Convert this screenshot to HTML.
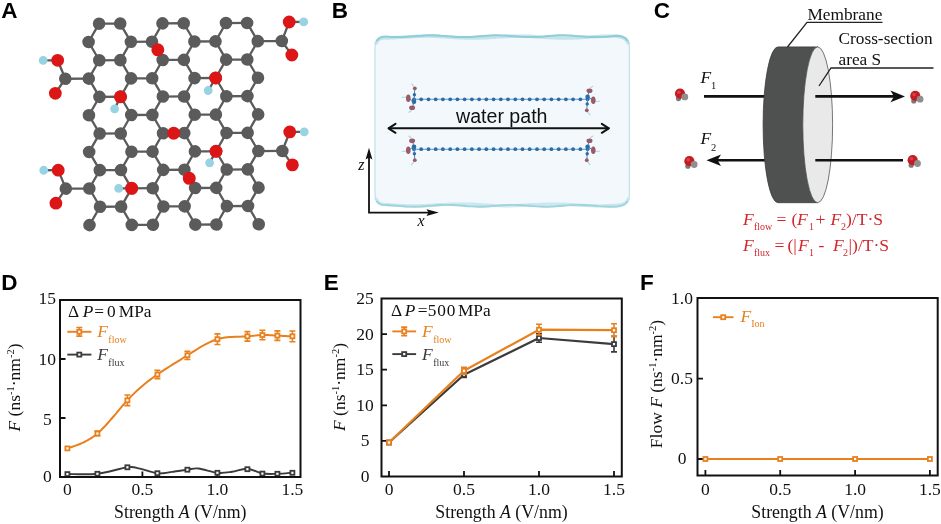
<!DOCTYPE html>
<html><head><meta charset="utf-8"><title>Figure</title>
<style>html,body{margin:0;padding:0;background:#fff}svg{display:block}</style>
</head><body>
<svg width="941" height="524" viewBox="0 0 941 524">
<rect width="941" height="524" fill="#fff"/>
<text x="1.2" y="17.5" font-family="Liberation Sans, sans-serif" font-weight="700" font-size="22.5" fill="#000">A</text>
<g transform="rotate(-0.29 173.6 124.0)">
<g stroke="#5b5b5b" stroke-width="2.3" stroke-linecap="round">
<line x1="99.6" y1="23.3" x2="120.7" y2="23.3"/>
<line x1="163.0" y1="23.3" x2="184.2" y2="23.3"/>
<line x1="226.5" y1="23.3" x2="247.6" y2="23.3"/>
<line x1="99.6" y1="23.3" x2="89.0" y2="41.6"/>
<line x1="120.7" y1="23.3" x2="131.3" y2="41.6"/>
<line x1="163.0" y1="23.3" x2="152.4" y2="41.6"/>
<line x1="184.2" y1="23.3" x2="194.8" y2="41.6"/>
<line x1="226.5" y1="23.3" x2="215.9" y2="41.6"/>
<line x1="247.6" y1="23.3" x2="258.2" y2="41.6"/>
<line x1="131.3" y1="41.6" x2="152.4" y2="41.6"/>
<line x1="194.8" y1="41.6" x2="215.9" y2="41.6"/>
<line x1="89.0" y1="41.6" x2="99.6" y2="59.9"/>
<line x1="131.3" y1="41.6" x2="120.7" y2="59.9"/>
<line x1="152.4" y1="41.6" x2="163.0" y2="59.9"/>
<line x1="194.8" y1="41.6" x2="184.2" y2="59.9"/>
<line x1="215.9" y1="41.6" x2="226.5" y2="59.9"/>
<line x1="258.2" y1="41.6" x2="247.6" y2="59.9"/>
<line x1="99.6" y1="59.9" x2="120.7" y2="59.9"/>
<line x1="163.0" y1="59.9" x2="184.2" y2="59.9"/>
<line x1="226.5" y1="59.9" x2="247.6" y2="59.9"/>
<line x1="99.6" y1="59.9" x2="89.0" y2="78.2"/>
<line x1="120.7" y1="59.9" x2="131.3" y2="78.2"/>
<line x1="163.0" y1="59.9" x2="152.4" y2="78.2"/>
<line x1="184.2" y1="59.9" x2="194.8" y2="78.2"/>
<line x1="226.5" y1="59.9" x2="215.9" y2="78.2"/>
<line x1="247.6" y1="59.9" x2="258.2" y2="78.2"/>
<line x1="131.3" y1="78.2" x2="152.4" y2="78.2"/>
<line x1="194.8" y1="78.2" x2="215.9" y2="78.2"/>
<line x1="89.0" y1="78.2" x2="99.6" y2="96.5"/>
<line x1="131.3" y1="78.2" x2="120.7" y2="96.5"/>
<line x1="152.4" y1="78.2" x2="163.0" y2="96.5"/>
<line x1="194.8" y1="78.2" x2="184.2" y2="96.5"/>
<line x1="215.9" y1="78.2" x2="226.5" y2="96.5"/>
<line x1="258.2" y1="78.2" x2="247.6" y2="96.5"/>
<line x1="99.6" y1="96.5" x2="120.7" y2="96.5"/>
<line x1="163.0" y1="96.5" x2="184.2" y2="96.5"/>
<line x1="226.5" y1="96.5" x2="247.6" y2="96.5"/>
<line x1="99.6" y1="96.5" x2="89.0" y2="114.8"/>
<line x1="120.7" y1="96.5" x2="131.3" y2="114.8"/>
<line x1="163.0" y1="96.5" x2="152.4" y2="114.8"/>
<line x1="184.2" y1="96.5" x2="194.8" y2="114.8"/>
<line x1="226.5" y1="96.5" x2="215.9" y2="114.8"/>
<line x1="247.6" y1="96.5" x2="258.2" y2="114.8"/>
<line x1="131.3" y1="114.8" x2="152.4" y2="114.8"/>
<line x1="194.8" y1="114.8" x2="215.9" y2="114.8"/>
<line x1="89.0" y1="114.8" x2="99.6" y2="133.2"/>
<line x1="131.3" y1="114.8" x2="120.7" y2="133.2"/>
<line x1="152.4" y1="114.8" x2="163.0" y2="133.2"/>
<line x1="194.8" y1="114.8" x2="184.2" y2="133.2"/>
<line x1="215.9" y1="114.8" x2="226.5" y2="133.2"/>
<line x1="258.2" y1="114.8" x2="247.6" y2="133.2"/>
<line x1="99.6" y1="133.2" x2="120.7" y2="133.2"/>
<line x1="163.0" y1="133.2" x2="184.2" y2="133.2"/>
<line x1="226.5" y1="133.2" x2="247.6" y2="133.2"/>
<line x1="99.6" y1="133.2" x2="89.0" y2="151.5"/>
<line x1="120.7" y1="133.2" x2="131.3" y2="151.5"/>
<line x1="163.0" y1="133.2" x2="152.4" y2="151.5"/>
<line x1="184.2" y1="133.2" x2="194.8" y2="151.5"/>
<line x1="226.5" y1="133.2" x2="215.9" y2="151.5"/>
<line x1="247.6" y1="133.2" x2="258.2" y2="151.5"/>
<line x1="131.3" y1="151.5" x2="152.4" y2="151.5"/>
<line x1="194.8" y1="151.5" x2="215.9" y2="151.5"/>
<line x1="89.0" y1="151.5" x2="99.6" y2="169.8"/>
<line x1="131.3" y1="151.5" x2="120.7" y2="169.8"/>
<line x1="152.4" y1="151.5" x2="163.0" y2="169.8"/>
<line x1="194.8" y1="151.5" x2="184.2" y2="169.8"/>
<line x1="215.9" y1="151.5" x2="226.5" y2="169.8"/>
<line x1="258.2" y1="151.5" x2="247.6" y2="169.8"/>
<line x1="99.6" y1="169.8" x2="120.7" y2="169.8"/>
<line x1="163.0" y1="169.8" x2="184.2" y2="169.8"/>
<line x1="226.5" y1="169.8" x2="247.6" y2="169.8"/>
<line x1="99.6" y1="169.8" x2="89.0" y2="188.1"/>
<line x1="120.7" y1="169.8" x2="131.3" y2="188.1"/>
<line x1="163.0" y1="169.8" x2="152.4" y2="188.1"/>
<line x1="184.2" y1="169.8" x2="194.8" y2="188.1"/>
<line x1="226.5" y1="169.8" x2="215.9" y2="188.1"/>
<line x1="247.6" y1="169.8" x2="258.2" y2="188.1"/>
<line x1="131.3" y1="188.1" x2="152.4" y2="188.1"/>
<line x1="194.8" y1="188.1" x2="215.9" y2="188.1"/>
<line x1="89.0" y1="188.1" x2="99.6" y2="206.4"/>
<line x1="131.3" y1="188.1" x2="120.7" y2="206.4"/>
<line x1="152.4" y1="188.1" x2="163.0" y2="206.4"/>
<line x1="194.8" y1="188.1" x2="184.2" y2="206.4"/>
<line x1="215.9" y1="188.1" x2="226.5" y2="206.4"/>
<line x1="258.2" y1="188.1" x2="247.6" y2="206.4"/>
<line x1="99.6" y1="206.4" x2="120.7" y2="206.4"/>
<line x1="163.0" y1="206.4" x2="184.2" y2="206.4"/>
<line x1="226.5" y1="206.4" x2="247.6" y2="206.4"/>
<line x1="99.6" y1="206.4" x2="89.0" y2="224.7"/>
<line x1="120.7" y1="206.4" x2="131.3" y2="224.7"/>
<line x1="163.0" y1="206.4" x2="152.4" y2="224.7"/>
<line x1="184.2" y1="206.4" x2="194.8" y2="224.7"/>
<line x1="226.5" y1="206.4" x2="215.9" y2="224.7"/>
<line x1="247.6" y1="206.4" x2="258.2" y2="224.7"/>
<line x1="131.3" y1="224.7" x2="152.4" y2="224.7"/>
<line x1="194.8" y1="224.7" x2="215.9" y2="224.7"/>
<line x1="89.0" y1="78.2" x2="65.5" y2="78.2"/>
<line x1="65.5" y1="78.2" x2="58.0" y2="59.7"/>
<line x1="65.5" y1="78.2" x2="55.5" y2="92.7"/>
<line x1="58.0" y1="59.7" x2="43.5" y2="59.7"/>
<line x1="89.0" y1="188.1" x2="65.5" y2="188.1"/>
<line x1="65.5" y1="188.1" x2="58.0" y2="169.6"/>
<line x1="65.5" y1="188.1" x2="55.5" y2="202.6"/>
<line x1="58.0" y1="169.6" x2="43.5" y2="169.6"/>
<line x1="258.2" y1="41.6" x2="282.2" y2="41.6"/>
<line x1="282.2" y1="41.6" x2="289.7" y2="22.6"/>
<line x1="282.2" y1="41.6" x2="292.2" y2="55.6"/>
<line x1="289.7" y1="22.6" x2="304.2" y2="22.6"/>
<line x1="258.2" y1="151.5" x2="282.2" y2="151.5"/>
<line x1="282.2" y1="151.5" x2="289.7" y2="132.5"/>
<line x1="282.2" y1="151.5" x2="292.2" y2="165.5"/>
<line x1="289.7" y1="132.5" x2="304.2" y2="132.5"/>
<line x1="120.7" y1="96.5" x2="114.7" y2="108.5"/>
<line x1="215.9" y1="78.2" x2="208.4" y2="90.7"/>
<line x1="215.9" y1="151.5" x2="209.4" y2="163.0"/>
<line x1="131.3" y1="188.1" x2="118.3" y2="188.1"/>
</g>
<g fill="#5b5b5b">
<circle cx="99.6" cy="23.3" r="6.3"/>
<circle cx="120.7" cy="23.3" r="6.3"/>
<circle cx="163.0" cy="23.3" r="6.3"/>
<circle cx="184.2" cy="23.3" r="6.3"/>
<circle cx="226.5" cy="23.3" r="6.3"/>
<circle cx="247.6" cy="23.3" r="6.3"/>
<circle cx="89.0" cy="41.6" r="6.3"/>
<circle cx="131.3" cy="41.6" r="6.3"/>
<circle cx="152.4" cy="41.6" r="6.3"/>
<circle cx="194.8" cy="41.6" r="6.3"/>
<circle cx="215.9" cy="41.6" r="6.3"/>
<circle cx="258.2" cy="41.6" r="6.3"/>
<circle cx="99.6" cy="59.9" r="6.3"/>
<circle cx="120.7" cy="59.9" r="6.3"/>
<circle cx="163.0" cy="59.9" r="6.3"/>
<circle cx="184.2" cy="59.9" r="6.3"/>
<circle cx="226.5" cy="59.9" r="6.3"/>
<circle cx="247.6" cy="59.9" r="6.3"/>
<circle cx="89.0" cy="78.2" r="6.3"/>
<circle cx="131.3" cy="78.2" r="6.3"/>
<circle cx="152.4" cy="78.2" r="6.3"/>
<circle cx="194.8" cy="78.2" r="6.3"/>
<circle cx="215.9" cy="78.2" r="6.3"/>
<circle cx="258.2" cy="78.2" r="6.3"/>
<circle cx="99.6" cy="96.5" r="6.3"/>
<circle cx="120.7" cy="96.5" r="6.3"/>
<circle cx="163.0" cy="96.5" r="6.3"/>
<circle cx="184.2" cy="96.5" r="6.3"/>
<circle cx="226.5" cy="96.5" r="6.3"/>
<circle cx="247.6" cy="96.5" r="6.3"/>
<circle cx="89.0" cy="114.8" r="6.3"/>
<circle cx="131.3" cy="114.8" r="6.3"/>
<circle cx="152.4" cy="114.8" r="6.3"/>
<circle cx="194.8" cy="114.8" r="6.3"/>
<circle cx="215.9" cy="114.8" r="6.3"/>
<circle cx="258.2" cy="114.8" r="6.3"/>
<circle cx="99.6" cy="133.2" r="6.3"/>
<circle cx="120.7" cy="133.2" r="6.3"/>
<circle cx="163.0" cy="133.2" r="6.3"/>
<circle cx="184.2" cy="133.2" r="6.3"/>
<circle cx="226.5" cy="133.2" r="6.3"/>
<circle cx="247.6" cy="133.2" r="6.3"/>
<circle cx="89.0" cy="151.5" r="6.3"/>
<circle cx="131.3" cy="151.5" r="6.3"/>
<circle cx="152.4" cy="151.5" r="6.3"/>
<circle cx="194.8" cy="151.5" r="6.3"/>
<circle cx="215.9" cy="151.5" r="6.3"/>
<circle cx="258.2" cy="151.5" r="6.3"/>
<circle cx="99.6" cy="169.8" r="6.3"/>
<circle cx="120.7" cy="169.8" r="6.3"/>
<circle cx="163.0" cy="169.8" r="6.3"/>
<circle cx="184.2" cy="169.8" r="6.3"/>
<circle cx="226.5" cy="169.8" r="6.3"/>
<circle cx="247.6" cy="169.8" r="6.3"/>
<circle cx="89.0" cy="188.1" r="6.3"/>
<circle cx="131.3" cy="188.1" r="6.3"/>
<circle cx="152.4" cy="188.1" r="6.3"/>
<circle cx="194.8" cy="188.1" r="6.3"/>
<circle cx="215.9" cy="188.1" r="6.3"/>
<circle cx="258.2" cy="188.1" r="6.3"/>
<circle cx="99.6" cy="206.4" r="6.3"/>
<circle cx="120.7" cy="206.4" r="6.3"/>
<circle cx="163.0" cy="206.4" r="6.3"/>
<circle cx="184.2" cy="206.4" r="6.3"/>
<circle cx="226.5" cy="206.4" r="6.3"/>
<circle cx="247.6" cy="206.4" r="6.3"/>
<circle cx="89.0" cy="224.7" r="6.3"/>
<circle cx="131.3" cy="224.7" r="6.3"/>
<circle cx="152.4" cy="224.7" r="6.3"/>
<circle cx="194.8" cy="224.7" r="6.3"/>
<circle cx="215.9" cy="224.7" r="6.3"/>
<circle cx="258.2" cy="224.7" r="6.3"/>
<circle cx="65.5" cy="78.2" r="6.3"/>
<circle cx="65.5" cy="188.1" r="6.3"/>
<circle cx="282.2" cy="41.6" r="6.3"/>
<circle cx="282.2" cy="151.5" r="6.3"/>
</g>
<g fill="#97d3e2">
<circle cx="43.5" cy="59.7" r="4.4"/>
<circle cx="43.5" cy="169.6" r="4.4"/>
<circle cx="304.2" cy="22.6" r="4.4"/>
<circle cx="304.2" cy="132.5" r="4.4"/>
<circle cx="114.7" cy="108.5" r="4.4"/>
<circle cx="208.4" cy="90.7" r="4.4"/>
<circle cx="209.4" cy="163.0" r="4.4"/>
<circle cx="118.3" cy="188.1" r="4.4"/>
</g>
<g fill="#dc1616">
<circle cx="58.0" cy="59.7" r="6.4"/>
<circle cx="55.5" cy="92.7" r="6.4"/>
<circle cx="58.0" cy="169.6" r="6.4"/>
<circle cx="55.5" cy="202.6" r="6.4"/>
<circle cx="289.7" cy="22.6" r="6.4"/>
<circle cx="292.2" cy="55.6" r="6.4"/>
<circle cx="289.7" cy="132.5" r="6.4"/>
<circle cx="292.2" cy="165.5" r="6.4"/>
<circle cx="120.7" cy="96.5" r="6.5"/>
<circle cx="215.9" cy="78.2" r="6.5"/>
<circle cx="215.9" cy="151.5" r="6.5"/>
<circle cx="131.3" cy="188.1" r="6.5"/>
<circle cx="158.2" cy="49.7" r="6.5"/>
<circle cx="173.6" cy="133.2" r="6.5"/>
<circle cx="189.0" cy="178.4" r="6.5"/>
</g>
</g>
<text x="331.8" y="17.7" font-family="Liberation Sans, sans-serif" font-weight="700" font-size="22.5" fill="#000">B</text>
<path d="M375.0,48.2 Q375.0,36.2 387.0,36.6 L390.8,36.9 L394.7,37.0 L398.5,37.1 L402.4,37.0 L406.2,36.9 L410.0,36.6 L413.9,36.3 L417.7,35.9 L421.6,35.7 L425.4,35.4 L429.2,35.3 L433.1,35.3 L436.9,35.4 L440.8,35.7 L444.6,35.9 L448.4,36.3 L452.3,36.6 L456.1,36.9 L460.0,37.0 L463.8,37.1 L467.6,37.0 L471.5,36.9 L475.3,36.6 L479.2,36.3 L483.0,36.0 L486.8,35.7 L490.7,35.5 L494.5,35.3 L498.4,35.3 L502.2,35.4 L506.0,35.6 L509.9,35.9 L513.7,36.2 L517.6,36.5 L521.4,36.8 L525.2,37.0 L529.1,37.1 L532.9,37.1 L536.8,36.9 L540.6,36.7 L544.4,36.4 L548.3,36.0 L552.1,35.7 L556.0,35.5 L559.8,35.3 L563.6,35.3 L567.5,35.4 L571.3,35.6 L575.2,35.9 L579.0,36.2 L582.8,36.5 L586.7,36.8 L590.5,37.0 L594.4,37.1 L598.2,37.1 L602.0,36.9 L605.9,36.7 L609.7,36.4 L613.6,36.1 L617.4,35.8 Q629.4,36.2 629.4,48.2 L629.4,193.8 Q629.4,205.8 617.4,206.6 L613.6,206.7 L609.7,206.7 L605.9,206.6 L602.0,206.4 L598.2,206.1 L594.4,205.7 L590.5,205.4 L586.7,205.2 L582.8,205.0 L579.0,204.9 L575.2,204.9 L571.3,205.1 L567.5,205.4 L563.6,205.7 L559.8,206.0 L556.0,206.3 L552.1,206.5 L548.3,206.7 L544.4,206.7 L540.6,206.6 L536.8,206.4 L532.9,206.1 L529.1,205.8 L525.2,205.5 L521.4,205.2 L517.6,205.0 L513.7,204.9 L509.9,204.9 L506.0,205.1 L502.2,205.3 L498.4,205.6 L494.5,205.9 L490.7,206.3 L486.8,206.5 L483.0,206.7 L479.2,206.7 L475.3,206.6 L471.5,206.4 L467.6,206.2 L463.8,205.8 L460.0,205.5 L456.1,205.2 L452.3,205.0 L448.4,204.9 L444.6,204.9 L440.8,205.0 L436.9,205.3 L433.1,205.6 L429.2,205.9 L425.4,206.2 L421.6,206.5 L417.7,206.6 L413.9,206.7 L410.0,206.6 L406.2,206.5 L402.4,206.2 L398.5,205.9 L394.7,205.6 L390.8,205.3 L387.0,205.0 Q375.0,205.8 375.0,193.8 Z" fill="#f2f8fb" stroke="#c3e3e8" stroke-width="1.3"/>
<path d="M376.1,43.0 Q378.6,37.1 387.0,38.0 L390.8,37.9 L394.7,37.7 L398.5,37.4 L402.4,37.2 L406.2,36.9 L410.0,36.7 L413.9,36.5 L417.7,36.3 L421.6,36.2 L425.4,36.1 L429.2,36.1 L433.1,36.2 L436.9,36.3 L440.8,36.5 L444.6,36.8 L448.4,37.0 L452.3,37.3 L456.1,37.5 L460.0,37.7 L463.8,37.9 L467.6,38.0 L471.5,38.1 L475.3,38.1 L479.2,38.0 L483.0,37.9 L486.8,37.7 L490.7,37.4 L494.5,37.2 L498.4,36.9 L502.2,36.7 L506.0,36.5 L509.9,36.3 L513.7,36.2 L517.6,36.1 L521.4,36.1 L525.2,36.2 L529.1,36.3 L532.9,36.5 L536.8,36.8 L540.6,37.0 L544.4,37.3 L548.3,37.5 L552.1,37.7 L556.0,37.9 L559.8,38.0 L563.6,38.1 L567.5,38.1 L571.3,38.0 L575.2,37.9 L579.0,37.7 L582.8,37.4 L586.7,37.2 L590.5,36.9 L594.4,36.7 L598.2,36.5 L602.0,36.3 L605.9,36.2 L609.7,36.1 L613.6,36.1 L617.4,36.2 Q625.8,37.1 628.3,43.0" fill="none" stroke="#b7dfe7" stroke-width="3.4" stroke-linecap="round" stroke-linejoin="round" opacity="0.8"/>
<path d="M376.9,40.5 Q379.8,36.2 387.0,36.6 L390.8,36.9 L394.7,37.0 L398.5,37.1 L402.4,37.0 L406.2,36.9 L410.0,36.6 L413.9,36.3 L417.7,35.9 L421.6,35.7 L425.4,35.4 L429.2,35.3 L433.1,35.3 L436.9,35.4 L440.8,35.7 L444.6,35.9 L448.4,36.3 L452.3,36.6 L456.1,36.9 L460.0,37.0 L463.8,37.1 L467.6,37.0 L471.5,36.9 L475.3,36.6 L479.2,36.3 L483.0,36.0 L486.8,35.7 L490.7,35.5 L494.5,35.3 L498.4,35.3 L502.2,35.4 L506.0,35.6 L509.9,35.9 L513.7,36.2 L517.6,36.5 L521.4,36.8 L525.2,37.0 L529.1,37.1 L532.9,37.1 L536.8,36.9 L540.6,36.7 L544.4,36.4 L548.3,36.0 L552.1,35.7 L556.0,35.5 L559.8,35.3 L563.6,35.3 L567.5,35.4 L571.3,35.6 L575.2,35.9 L579.0,36.2 L582.8,36.5 L586.7,36.8 L590.5,37.0 L594.4,37.1 L598.2,37.1 L602.0,36.9 L605.9,36.7 L609.7,36.4 L613.6,36.1 L617.4,35.8 Q624.6,36.2 627.5,40.5" fill="none" stroke="#8ecbd7" stroke-width="2.0" stroke-linecap="round" stroke-linejoin="round" opacity="0.95"/>
<path d="M628.3,199.0 Q625.8,204.9 617.4,205.2 L613.6,205.4 L609.7,205.6 L605.9,205.7 L602.0,205.8 L598.2,205.8 L594.4,205.8 L590.5,205.7 L586.7,205.5 L582.8,205.3 L579.0,205.1 L575.2,204.9 L571.3,204.6 L567.5,204.4 L563.6,204.2 L559.8,204.1 L556.0,204.0 L552.1,204.0 L548.3,204.0 L544.4,204.1 L540.6,204.3 L536.8,204.5 L532.9,204.7 L529.1,204.9 L525.2,205.2 L521.4,205.4 L517.6,205.6 L513.7,205.7 L509.9,205.8 L506.0,205.8 L502.2,205.8 L498.4,205.7 L494.5,205.5 L490.7,205.3 L486.8,205.1 L483.0,204.9 L479.2,204.6 L475.3,204.4 L471.5,204.2 L467.6,204.1 L463.8,204.0 L460.0,204.0 L456.1,204.0 L452.3,204.1 L448.4,204.3 L444.6,204.5 L440.8,204.7 L436.9,204.9 L433.1,205.2 L429.2,205.4 L425.4,205.6 L421.6,205.7 L417.7,205.8 L413.9,205.8 L410.0,205.8 L406.2,205.7 L402.4,205.5 L398.5,205.3 L394.7,205.1 L390.8,204.9 L387.0,204.6 Q378.6,204.9 376.1,199.0" fill="none" stroke="#bfe3ea" stroke-width="3.2" stroke-linecap="round" stroke-linejoin="round" opacity="0.8"/>
<path d="M627.5,201.5 Q624.6,205.8 617.4,206.6 L613.6,206.7 L609.7,206.7 L605.9,206.6 L602.0,206.4 L598.2,206.1 L594.4,205.7 L590.5,205.4 L586.7,205.2 L582.8,205.0 L579.0,204.9 L575.2,204.9 L571.3,205.1 L567.5,205.4 L563.6,205.7 L559.8,206.0 L556.0,206.3 L552.1,206.5 L548.3,206.7 L544.4,206.7 L540.6,206.6 L536.8,206.4 L532.9,206.1 L529.1,205.8 L525.2,205.5 L521.4,205.2 L517.6,205.0 L513.7,204.9 L509.9,204.9 L506.0,205.1 L502.2,205.3 L498.4,205.6 L494.5,205.9 L490.7,206.3 L486.8,206.5 L483.0,206.7 L479.2,206.7 L475.3,206.6 L471.5,206.4 L467.6,206.2 L463.8,205.8 L460.0,205.5 L456.1,205.2 L452.3,205.0 L448.4,204.9 L444.6,204.9 L440.8,205.0 L436.9,205.3 L433.1,205.6 L429.2,205.9 L425.4,206.2 L421.6,206.5 L417.7,206.6 L413.9,206.7 L410.0,206.6 L406.2,206.5 L402.4,206.2 L398.5,205.9 L394.7,205.6 L390.8,205.3 L387.0,205.0 Q379.8,205.8 376.9,201.5" fill="none" stroke="#9dd3dd" stroke-width="1.9" stroke-linecap="round" stroke-linejoin="round" opacity="0.95"/>
<line x1="414" y1="99.3" x2="587.6" y2="99.3" stroke="#5f95c4" stroke-width="1.1"/>
<g fill="#2c6ca6">
<circle cx="414.0" cy="99.3" r="1.9"/>
<circle cx="421.2" cy="99.3" r="1.9"/>
<circle cx="428.5" cy="99.3" r="1.9"/>
<circle cx="435.7" cy="99.3" r="1.9"/>
<circle cx="442.9" cy="99.3" r="1.9"/>
<circle cx="450.2" cy="99.3" r="1.9"/>
<circle cx="457.4" cy="99.3" r="1.9"/>
<circle cx="464.6" cy="99.3" r="1.9"/>
<circle cx="471.9" cy="99.3" r="1.9"/>
<circle cx="479.1" cy="99.3" r="1.9"/>
<circle cx="486.3" cy="99.3" r="1.9"/>
<circle cx="493.6" cy="99.3" r="1.9"/>
<circle cx="500.8" cy="99.3" r="1.9"/>
<circle cx="508.0" cy="99.3" r="1.9"/>
<circle cx="515.3" cy="99.3" r="1.9"/>
<circle cx="522.5" cy="99.3" r="1.9"/>
<circle cx="529.7" cy="99.3" r="1.9"/>
<circle cx="537.0" cy="99.3" r="1.9"/>
<circle cx="544.2" cy="99.3" r="1.9"/>
<circle cx="551.4" cy="99.3" r="1.9"/>
<circle cx="558.7" cy="99.3" r="1.9"/>
<circle cx="565.9" cy="99.3" r="1.9"/>
<circle cx="573.1" cy="99.3" r="1.9"/>
<circle cx="580.4" cy="99.3" r="1.9"/>
<circle cx="587.6" cy="99.3" r="1.9"/>
</g>
<line x1="414" y1="149.2" x2="587.6" y2="149.2" stroke="#5f95c4" stroke-width="1.1"/>
<g fill="#2c6ca6">
<circle cx="414.0" cy="149.2" r="1.9"/>
<circle cx="421.2" cy="149.2" r="1.9"/>
<circle cx="428.5" cy="149.2" r="1.9"/>
<circle cx="435.7" cy="149.2" r="1.9"/>
<circle cx="442.9" cy="149.2" r="1.9"/>
<circle cx="450.2" cy="149.2" r="1.9"/>
<circle cx="457.4" cy="149.2" r="1.9"/>
<circle cx="464.6" cy="149.2" r="1.9"/>
<circle cx="471.9" cy="149.2" r="1.9"/>
<circle cx="479.1" cy="149.2" r="1.9"/>
<circle cx="486.3" cy="149.2" r="1.9"/>
<circle cx="493.6" cy="149.2" r="1.9"/>
<circle cx="500.8" cy="149.2" r="1.9"/>
<circle cx="508.0" cy="149.2" r="1.9"/>
<circle cx="515.3" cy="149.2" r="1.9"/>
<circle cx="522.5" cy="149.2" r="1.9"/>
<circle cx="529.7" cy="149.2" r="1.9"/>
<circle cx="537.0" cy="149.2" r="1.9"/>
<circle cx="544.2" cy="149.2" r="1.9"/>
<circle cx="551.4" cy="149.2" r="1.9"/>
<circle cx="558.7" cy="149.2" r="1.9"/>
<circle cx="565.9" cy="149.2" r="1.9"/>
<circle cx="573.1" cy="149.2" r="1.9"/>
<circle cx="580.4" cy="149.2" r="1.9"/>
<circle cx="587.6" cy="149.2" r="1.9"/>
</g>
<g transform="translate(414,99.3) scale(-1,-1)">
<g stroke="#a5d8e2" stroke-width="1.1" stroke-linecap="round">
<line x1="2.6" y1="-11.2" x2="5" y2="-13"/><line x1="8" y1="2" x2="11.8" y2="2"/><line x1="0.4" y1="13.2" x2="2.4" y2="15.4"/>
</g>
<path d="M0,-2.4 L-0.4,4.6 L-0.8,11 M0,-2.4 L1.7,-8.5 M0,-2.4 L5.9,1" stroke="#4f86b8" stroke-width="1" fill="none"/>
<g fill="#9b5a6a"><ellipse cx="1.9" cy="-8.5" rx="3" ry="2.3"/><ellipse cx="5.7" cy="1" rx="2.3" ry="3.8"/><circle cx="-0.8" cy="11" r="1.9"/></g>
<g fill="#2c6ca6"><circle cx="0" cy="-2.4" r="2.3"/><circle cx="-0.4" cy="4.6" r="1.7"/></g>
</g>
<g transform="translate(414,149.2) scale(-1,1)">
<g stroke="#a5d8e2" stroke-width="1.1" stroke-linecap="round">
<line x1="2.6" y1="-11.2" x2="5" y2="-13"/><line x1="8" y1="2" x2="11.8" y2="2"/><line x1="0.4" y1="13.2" x2="2.4" y2="15.4"/>
</g>
<path d="M0,-2.4 L-0.4,4.6 L-0.8,11 M0,-2.4 L1.7,-8.5 M0,-2.4 L5.9,1" stroke="#4f86b8" stroke-width="1" fill="none"/>
<g fill="#9b5a6a"><ellipse cx="1.9" cy="-8.5" rx="3" ry="2.3"/><ellipse cx="5.7" cy="1" rx="2.3" ry="3.8"/><circle cx="-0.8" cy="11" r="1.9"/></g>
<g fill="#2c6ca6"><circle cx="0" cy="-2.4" r="2.3"/><circle cx="-0.4" cy="4.6" r="1.7"/></g>
</g>
<g transform="translate(587.6,99.3) scale(1,1)">
<g stroke="#a5d8e2" stroke-width="1.1" stroke-linecap="round">
<line x1="2.6" y1="-11.2" x2="5" y2="-13"/><line x1="8" y1="2" x2="11.8" y2="2"/><line x1="0.4" y1="13.2" x2="2.4" y2="15.4"/>
</g>
<path d="M0,-2.4 L-0.4,4.6 L-0.8,11 M0,-2.4 L1.7,-8.5 M0,-2.4 L5.9,1" stroke="#4f86b8" stroke-width="1" fill="none"/>
<g fill="#9b5a6a"><ellipse cx="1.9" cy="-8.5" rx="3" ry="2.3"/><ellipse cx="5.7" cy="1" rx="2.3" ry="3.8"/><circle cx="-0.8" cy="11" r="1.9"/></g>
<g fill="#2c6ca6"><circle cx="0" cy="-2.4" r="2.3"/><circle cx="-0.4" cy="4.6" r="1.7"/></g>
</g>
<g transform="translate(587.6,149.2) scale(1,1)">
<g stroke="#a5d8e2" stroke-width="1.1" stroke-linecap="round">
<line x1="2.6" y1="-11.2" x2="5" y2="-13"/><line x1="8" y1="2" x2="11.8" y2="2"/><line x1="0.4" y1="13.2" x2="2.4" y2="15.4"/>
</g>
<path d="M0,-2.4 L-0.4,4.6 L-0.8,11 M0,-2.4 L1.7,-8.5 M0,-2.4 L5.9,1" stroke="#4f86b8" stroke-width="1" fill="none"/>
<g fill="#9b5a6a"><ellipse cx="1.9" cy="-8.5" rx="3" ry="2.3"/><ellipse cx="5.7" cy="1" rx="2.3" ry="3.8"/><circle cx="-0.8" cy="11" r="1.9"/></g>
<g fill="#2c6ca6"><circle cx="0" cy="-2.4" r="2.3"/><circle cx="-0.4" cy="4.6" r="1.7"/></g>
</g>
<g stroke="#111" stroke-width="2" fill="none" stroke-linecap="round" stroke-linejoin="round">
<line x1="389" y1="128.3" x2="608.5" y2="128.3"/>
<path d="M395.5,123.80000000000001 L388.5,128.3 L395.5,132.8"/>
<path d="M601.8,123.80000000000001 L608.8,128.3 L601.8,132.8"/>
</g>
<text x="456" y="122.5" font-family="Liberation Sans, sans-serif" font-size="19.5" fill="#111" textLength="91.5" lengthAdjust="spacingAndGlyphs">water path</text>
<g stroke="#111" stroke-width="1.8" fill="none"><path d="M369,156 V212.6 H430"/></g>
<path d="M369,147.8 L365.6,159.5 L369,157.5 L372.4,159.5 Z" fill="#111"/>
<path d="M438.8,212.6 L426.5,209.2 L428.5,212.6 L426.5,216 Z" fill="#111"/>
<text x="358.3" y="169.5" font-family="Liberation Serif, serif" font-style="italic" font-size="16" fill="#111">z</text>
<text x="417.5" y="226" font-family="Liberation Serif, serif" font-style="italic" font-size="16" fill="#111">x</text>
<text x="653.7" y="17.9" font-family="Liberation Sans, sans-serif" font-weight="700" font-size="22.5" fill="#000">C</text>
<g stroke="#111" stroke-width="2.6" fill="none">
<line x1="704" y1="96.4" x2="770" y2="96.4"/>
<line x1="716" y1="160.2" x2="770" y2="160.2"/>
</g>
<path d="M778,46.89999999999999 A14.9,77.9 0 0 0 778,202.7 L817.7,202.7 A14.9,77.9 0 0 1 817.7,46.89999999999999 Z" fill="#4f5050" stroke="#3c3c3c" stroke-width="0.8"/>
<ellipse cx="817.7" cy="124.8" rx="14.9" ry="77.9" fill="#e9e9e9" stroke="#555" stroke-width="0.8"/>
<g stroke="#222" stroke-width="1.3" fill="none"><path d="M882.5,22.3 H807 L787.5,47"/><path d="M933.5,68 H831 L819,86"/></g>
<g stroke="#111" stroke-width="2.6" fill="none">
<line x1="815.3" y1="96.4" x2="896" y2="96.4"/>
<line x1="815.3" y1="160.2" x2="903" y2="160.2"/>
</g>
<path d="M905,96.4 L890.5,90.6 L894,96.4 L890.5,102.2 Z" fill="#111"/>
<path d="M706.5,160.2 L721,154.4 L717.5,160.2 L721,166 Z" fill="#111"/>
<circle cx="678.5" cy="98.6" r="2.6" fill="#7a7a7a"/>
<circle cx="680" cy="93.6" r="5.1" fill="#c41c22"/>
<circle cx="678.8" cy="92.19999999999999" r="1.8" fill="#dd5358" opacity="0.7"/>
<circle cx="684.8" cy="96.89999999999999" r="3.4" fill="#8e8e8e"/>
<circle cx="687.9" cy="166.2" r="2.6" fill="#7a7a7a"/>
<circle cx="689.4" cy="161.2" r="5.1" fill="#c41c22"/>
<circle cx="688.1999999999999" cy="159.79999999999998" r="1.8" fill="#dd5358" opacity="0.7"/>
<circle cx="694.1999999999999" cy="164.5" r="3.4" fill="#8e8e8e"/>
<circle cx="913.8" cy="100.9" r="2.6" fill="#7a7a7a"/>
<circle cx="915.3" cy="95.9" r="5.1" fill="#c41c22"/>
<circle cx="914.0999999999999" cy="94.5" r="1.8" fill="#dd5358" opacity="0.7"/>
<circle cx="920.0999999999999" cy="99.2" r="3.4" fill="#8e8e8e"/>
<circle cx="911.2" cy="165.2" r="2.6" fill="#7a7a7a"/>
<circle cx="912.7" cy="160.2" r="5.1" fill="#c41c22"/>
<circle cx="911.5" cy="158.79999999999998" r="1.8" fill="#dd5358" opacity="0.7"/>
<circle cx="917.5" cy="163.5" r="3.4" fill="#8e8e8e"/>
<text x="807.5" y="19.6" font-family="Liberation Serif, serif" font-size="17.3" fill="#111">Membrane</text>
<text x="838.5" y="43.6" font-family="Liberation Serif, serif" font-size="17.3" fill="#111">Cross-section</text>
<text x="838.5" y="64.8" font-family="Liberation Serif, serif" font-size="17.3" fill="#111">area S</text>
<text x="700.5" y="82.5" font-family="Liberation Serif, serif" font-size="17.5" font-style="italic" fill="#111">F</text>
<text x="711" y="89" font-family="Liberation Serif, serif" font-size="10.5" fill="#111">1</text>
<text x="700.5" y="144" font-family="Liberation Serif, serif" font-size="17.5" font-style="italic" fill="#111">F</text>
<text x="711" y="150.5" font-family="Liberation Serif, serif" font-size="10.5" fill="#111">2</text>
<text x="743" y="224.7" font-family="Liberation Serif, serif" font-size="17.6" font-style="italic" fill="#d3262b">F</text>
<text x="754" y="230" font-family="Liberation Serif, serif" font-size="10" fill="#d3262b">flow</text>
<text x="776.5" y="224.7" font-family="Liberation Serif, serif" font-size="17.6" fill="#d3262b">=</text>
<text x="791.5" y="224.7" font-family="Liberation Serif, serif" font-size="17.6" fill="#d3262b">(</text>
<text x="797" y="224.7" font-family="Liberation Serif, serif" font-size="17.6" font-style="italic" fill="#d3262b">F</text>
<text x="809" y="230" font-family="Liberation Serif, serif" font-size="10" fill="#d3262b">1</text>
<text x="815.5" y="224.7" font-family="Liberation Serif, serif" font-size="17.6" fill="#d3262b">+</text>
<text x="830.5" y="224.7" font-family="Liberation Serif, serif" font-size="17.6" font-style="italic" fill="#d3262b">F</text>
<text x="841" y="230" font-family="Liberation Serif, serif" font-size="10" fill="#d3262b">2</text>
<text x="846" y="224.7" font-family="Liberation Serif, serif" font-size="17.6" fill="#d3262b">)/T·S</text>
<text x="743" y="250.5" font-family="Liberation Serif, serif" font-size="17.6" font-style="italic" fill="#d3262b">F</text>
<text x="754" y="256" font-family="Liberation Serif, serif" font-size="10" fill="#d3262b">flux</text>
<text x="774.5" y="250.5" font-family="Liberation Serif, serif" font-size="17.6" fill="#d3262b">=</text>
<text x="787.5" y="250.5" font-family="Liberation Serif, serif" font-size="17.6" fill="#d3262b">(|</text>
<text x="798" y="250.5" font-family="Liberation Serif, serif" font-size="17.6" font-style="italic" fill="#d3262b">F</text>
<text x="809" y="256" font-family="Liberation Serif, serif" font-size="10" fill="#d3262b">1</text>
<text x="818.5" y="250.5" font-family="Liberation Serif, serif" font-size="17.6" fill="#d3262b">-</text>
<text x="833" y="250.5" font-family="Liberation Serif, serif" font-size="17.6" font-style="italic" fill="#d3262b">F</text>
<text x="843" y="256" font-family="Liberation Serif, serif" font-size="10" fill="#d3262b">2</text>
<text x="848.5" y="250.5" font-family="Liberation Serif, serif" font-size="17.6" fill="#d3262b">|)/T·S</text>
<text x="1.3" y="289.8" font-family="Liberation Sans, sans-serif" font-weight="700" font-size="22.5" fill="#000">D</text>
<path d="M142.4,477 v-5.5 M217.4,477 v-5.5 M60,418.0 h5.5 M60,359.0 h5.5 " stroke="#111" stroke-width="1.8" fill="none"/>
<path d="M67.4,474.0 C72.4,474.0 87.4,474.9 97.4,473.8 C107.4,472.7 120.3,468.2 127.4,467.3 C134.5,466.4 135.0,467.6 140.0,468.6 C145.0,469.6 152.1,472.8 157.4,473.3 C162.7,473.9 167.0,472.5 172.0,471.9 C177.0,471.3 183.0,470.3 187.4,469.7 C191.8,469.1 193.5,468.0 198.5,468.5 C203.5,469.0 211.8,472.2 217.4,472.8 C223.0,473.4 227.0,472.5 232.0,471.8 C237.0,471.1 242.3,468.5 247.4,468.8 C252.5,469.1 257.4,472.7 262.4,473.5 C267.4,474.3 272.4,473.9 277.4,473.8 C282.4,473.7 289.9,472.8 292.4,472.6" stroke="#3b3b3b" stroke-width="1.9" stroke-linejoin="round" fill="none"/>
<rect x="65.4" y="472.1" width="4.0" height="4.0" fill="#fff" stroke="#3b3b3b" stroke-width="1.8"/>
<rect x="95.4" y="471.8" width="4.0" height="4.0" fill="#fff" stroke="#3b3b3b" stroke-width="1.8"/>
<rect x="125.4" y="465.3" width="4.0" height="4.0" fill="#fff" stroke="#3b3b3b" stroke-width="1.8"/>
<rect x="155.4" y="471.2" width="4.0" height="4.0" fill="#fff" stroke="#3b3b3b" stroke-width="1.8"/>
<rect x="185.4" y="467.7" width="4.0" height="4.0" fill="#fff" stroke="#3b3b3b" stroke-width="1.8"/>
<rect x="215.4" y="470.8" width="4.0" height="4.0" fill="#fff" stroke="#3b3b3b" stroke-width="1.8"/>
<rect x="245.4" y="467.2" width="4.0" height="4.0" fill="#fff" stroke="#3b3b3b" stroke-width="1.8"/>
<rect x="260.4" y="471.6" width="4.0" height="4.0" fill="#fff" stroke="#3b3b3b" stroke-width="1.8"/>
<rect x="275.4" y="471.8" width="4.0" height="4.0" fill="#fff" stroke="#3b3b3b" stroke-width="1.8"/>
<rect x="290.4" y="470.8" width="4.0" height="4.0" fill="#fff" stroke="#3b3b3b" stroke-width="1.8"/>
<path d="M67.4,448.44 L69.9,447.63 L72.4,446.80 L74.9,445.93 L77.4,445.01 L79.9,444.01 L82.4,442.92 L84.9,441.73 L87.4,440.40 L89.9,438.93 L92.4,437.30 L94.9,435.48 L97.4,433.46 L99.9,431.23 L102.4,428.81 L104.9,426.22 L107.4,423.50 L109.9,420.68 L112.4,417.77 L114.9,414.82 L117.4,411.85 L119.9,408.88 L122.4,405.95 L124.9,403.08 L127.4,400.30 L129.9,397.64 L132.4,395.09 L134.9,392.64 L137.4,390.30 L139.9,388.05 L142.4,385.89 L144.9,383.82 L147.4,381.82 L149.9,379.89 L152.4,378.02 L154.9,376.21 L157.4,374.46 L159.9,372.75 L162.4,371.08 L164.9,369.44 L167.4,367.83 L169.9,366.25 L172.4,364.68 L174.9,363.12 L177.4,361.58 L179.9,360.03 L182.4,358.48 L184.9,356.92 L187.4,355.34 L189.9,353.75 L192.4,352.15 L194.9,350.56 L197.4,348.99 L199.9,347.47 L202.4,346.00 L204.9,344.60 L207.4,343.28 L209.9,342.07 L212.4,340.97 L214.9,340.00 L217.4,339.18 L219.9,338.51 L222.4,337.98 L224.9,337.58 L227.4,337.28 L229.9,337.06 L232.4,336.92 L234.9,336.81 L237.4,336.74 L239.9,336.68 L242.4,336.60 L244.9,336.50 L247.4,336.34 L248.7,336.24 L249.9,336.13 L251.2,336.01 L252.4,335.88 L253.7,335.75 L254.9,335.62 L256.1,335.49 L257.4,335.37 L258.6,335.27 L259.9,335.17 L261.1,335.10 L262.4,335.05 L263.6,335.02 L264.9,335.01 L266.1,335.02 L267.4,335.06 L268.6,335.10 L269.9,335.16 L271.1,335.23 L272.4,335.31 L273.6,335.39 L274.9,335.47 L276.1,335.55 L277.4,335.64 L278.6,335.71 L279.9,335.78 L281.1,335.85 L282.4,335.92 L283.6,335.98 L284.9,336.04 L286.1,336.09 L287.4,336.14 L288.6,336.20 L289.9,336.25 L291.1,336.30 L292.4,336.34" stroke="#e8801e" stroke-width="2" stroke-linejoin="round" fill="none"/>
<rect x="65.4" y="446.4" width="4.0" height="4.0" fill="#fff" stroke="#e8801e" stroke-width="1.8"/>
<path d="M97.4,431.1 V435.8 M94.4,431.1 h6 M94.4,435.8 h6" stroke="#e8801e" stroke-width="1.6" fill="none"/>
<rect x="95.4" y="431.5" width="4.0" height="4.0" fill="#fff" stroke="#e8801e" stroke-width="1.8"/>
<path d="M127.4,395.0 V405.6 M124.4,395.0 h6 M124.4,405.6 h6" stroke="#e8801e" stroke-width="1.6" fill="none"/>
<rect x="125.4" y="398.3" width="4.0" height="4.0" fill="#fff" stroke="#e8801e" stroke-width="1.8"/>
<path d="M157.4,370.3 V378.6 M154.4,370.3 h6 M154.4,378.6 h6" stroke="#e8801e" stroke-width="1.6" fill="none"/>
<rect x="155.4" y="372.5" width="4.0" height="4.0" fill="#fff" stroke="#e8801e" stroke-width="1.8"/>
<path d="M187.4,351.2 V359.5 M184.4,351.2 h6 M184.4,359.5 h6" stroke="#e8801e" stroke-width="1.6" fill="none"/>
<rect x="185.4" y="353.3" width="4.0" height="4.0" fill="#fff" stroke="#e8801e" stroke-width="1.8"/>
<path d="M217.4,333.9 V344.5 M214.4,333.9 h6 M214.4,344.5 h6" stroke="#e8801e" stroke-width="1.6" fill="none"/>
<rect x="215.4" y="337.2" width="4.0" height="4.0" fill="#fff" stroke="#e8801e" stroke-width="1.8"/>
<path d="M247.4,331.6 V341.1 M244.4,331.6 h6 M244.4,341.1 h6" stroke="#e8801e" stroke-width="1.6" fill="none"/>
<rect x="245.4" y="334.3" width="4.0" height="4.0" fill="#fff" stroke="#e8801e" stroke-width="1.8"/>
<path d="M262.4,330.3 V339.8 M259.4,330.3 h6 M259.4,339.8 h6" stroke="#e8801e" stroke-width="1.6" fill="none"/>
<rect x="260.4" y="333.0" width="4.0" height="4.0" fill="#fff" stroke="#e8801e" stroke-width="1.8"/>
<path d="M277.4,330.9 V340.4 M274.4,330.9 h6 M274.4,340.4 h6" stroke="#e8801e" stroke-width="1.6" fill="none"/>
<rect x="275.4" y="333.6" width="4.0" height="4.0" fill="#fff" stroke="#e8801e" stroke-width="1.8"/>
<path d="M292.4,331.0 V341.7 M289.4,331.0 h6 M289.4,341.7 h6" stroke="#e8801e" stroke-width="1.6" fill="none"/>
<rect x="290.4" y="334.3" width="4.0" height="4.0" fill="#fff" stroke="#e8801e" stroke-width="1.8"/>
<rect x="60" y="300" width="240.5" height="177" fill="none" stroke="#111" stroke-width="2"/>
<text x="67.4" y="495" text-anchor="middle" font-family="Liberation Serif, serif" font-size="17.5" fill="#111">0</text>
<text x="142.4" y="495" text-anchor="middle" font-family="Liberation Serif, serif" font-size="17.5" fill="#111">0.5</text>
<text x="217.4" y="495" text-anchor="middle" font-family="Liberation Serif, serif" font-size="17.5" fill="#111">1.0</text>
<text x="292.4" y="495" text-anchor="middle" font-family="Liberation Serif, serif" font-size="17.5" fill="#111">1.5</text>
<text x="47.3" y="481.5" text-anchor="middle" font-family="Liberation Serif, serif" font-size="17.5" fill="#111">0</text>
<text x="47.3" y="425.1" text-anchor="middle" font-family="Liberation Serif, serif" font-size="17.5" fill="#111">5</text>
<text x="47.3" y="365.3" text-anchor="middle" font-family="Liberation Serif, serif" font-size="17.5" fill="#111">10</text>
<text x="47.3" y="304.0" text-anchor="middle" font-family="Liberation Serif, serif" font-size="17.5" fill="#111">15</text>
<text x="180.3" y="517.5" text-anchor="middle" font-family="Liberation Serif, serif" font-size="17.8" fill="#111">Strength <tspan font-style="italic">A</tspan> (V/nm)</text>
<text transform="translate(20,387.5) rotate(-90)" text-anchor="middle" font-family="Liberation Serif, serif" font-size="17.5" fill="#111"><tspan font-style="italic">F</tspan> (ns<tspan font-size="10.5" dy="-6.5">-1</tspan><tspan dy="6.5">·nm</tspan><tspan font-size="10.5" dy="-6.5">-2</tspan><tspan dy="6.5">)</tspan></text>
<text x="68" y="316.5" font-family="Liberation Serif, serif" font-size="17.3" fill="#111">Δ<tspan font-style="italic" dx="3.5">P</tspan><tspan dx="1">=</tspan><tspan dx="3">0</tspan><tspan dx="3.2">MPa</tspan></text>
<line x1="67.3" y1="331.8" x2="91.4" y2="331.8" stroke="#e8801e" stroke-width="1.9"/>
<path d="M79.3,327.5 V336.1 M76.3,327.5 h6 M76.3,336.1 h6" stroke="#e8801e" stroke-width="1.6" fill="none"/>
<rect x="77.3" y="329.8" width="4.0" height="4.0" fill="#fff" stroke="#e8801e" stroke-width="1.8"/>
<text x="97.2" y="336.8" font-family="Liberation Serif, serif" font-size="17.5" font-style="italic" fill="#e8801e">F</text>
<text x="108.3" y="343.2" font-family="Liberation Serif, serif" font-size="10" fill="#e8801e">flow</text>
<line x1="67.3" y1="354.6" x2="91.4" y2="354.6" stroke="#3b3b3b" stroke-width="1.9"/>
<rect x="77.3" y="352.6" width="4.0" height="4.0" fill="#fff" stroke="#3b3b3b" stroke-width="1.8"/>
<text x="97.2" y="360.2" font-family="Liberation Serif, serif" font-size="17.5" font-style="italic" fill="#3b3b3b">F</text>
<text x="108.3" y="366.3" font-family="Liberation Serif, serif" font-size="10" fill="#3b3b3b">flux</text>
<text x="323.7" y="290" font-family="Liberation Sans, sans-serif" font-weight="700" font-size="22.5" fill="#000">E</text>
<path d="M389.0,476.5 v-5.5 M464.0,476.5 v-5.5 M539.0,476.5 v-5.5 M614.0,476.5 v-5.5 M381.5,440.9 h5.5 M381.5,405.3 h5.5 M381.5,369.7 h5.5 M381.5,334.1 h5.5 " stroke="#111" stroke-width="1.8" fill="none"/>
<path d="M389.0,442.5 L464.0,374.7 L539.0,338.0 L614.0,344.1" stroke="#3b3b3b" stroke-width="2.2" fill="none" stroke-linejoin="round"/>
<rect x="387.0" y="440.5" width="4.0" height="4.0" fill="#fff" stroke="#3b3b3b" stroke-width="1.8"/>
<path d="M464.0,371.8 V377.5 M461.0,371.8 h6 M461.0,377.5 h6" stroke="#3b3b3b" stroke-width="1.6" fill="none"/>
<rect x="462.0" y="372.7" width="4.0" height="4.0" fill="#fff" stroke="#3b3b3b" stroke-width="1.8"/>
<path d="M539.0,333.7 V342.3 M536.0,333.7 h6 M536.0,342.3 h6" stroke="#3b3b3b" stroke-width="1.6" fill="none"/>
<rect x="537.0" y="336.0" width="4.0" height="4.0" fill="#fff" stroke="#3b3b3b" stroke-width="1.8"/>
<path d="M614.0,336.2 V351.9 M611.0,336.2 h6 M611.0,351.9 h6" stroke="#3b3b3b" stroke-width="1.6" fill="none"/>
<rect x="612.0" y="342.1" width="4.0" height="4.0" fill="#fff" stroke="#3b3b3b" stroke-width="1.8"/>
<path d="M389.0,442.5 L464.0,370.8 L539.0,329.7 L614.0,330.2" stroke="#e8801e" stroke-width="2.2" fill="none" stroke-linejoin="round"/>
<rect x="387.0" y="440.5" width="4.0" height="4.0" fill="#fff" stroke="#e8801e" stroke-width="1.8"/>
<path d="M464.0,367.2 V374.3 M461.0,367.2 h6 M461.0,374.3 h6" stroke="#e8801e" stroke-width="1.6" fill="none"/>
<rect x="462.0" y="368.8" width="4.0" height="4.0" fill="#fff" stroke="#e8801e" stroke-width="1.8"/>
<path d="M539.0,324.3 V335.0 M536.0,324.3 h6 M536.0,335.0 h6" stroke="#e8801e" stroke-width="1.6" fill="none"/>
<rect x="537.0" y="327.7" width="4.0" height="4.0" fill="#fff" stroke="#e8801e" stroke-width="1.8"/>
<path d="M614.0,323.8 V336.6 M611.0,323.8 h6 M611.0,336.6 h6" stroke="#e8801e" stroke-width="1.6" fill="none"/>
<rect x="612.0" y="328.2" width="4.0" height="4.0" fill="#fff" stroke="#e8801e" stroke-width="1.8"/>
<rect x="381.5" y="298.5" width="240.29999999999995" height="178.0" fill="none" stroke="#111" stroke-width="2"/>
<text x="389.0" y="495" text-anchor="middle" font-family="Liberation Serif, serif" font-size="17.5" fill="#111">0</text>
<text x="464.0" y="495" text-anchor="middle" font-family="Liberation Serif, serif" font-size="17.5" fill="#111">0.5</text>
<text x="539.0" y="495" text-anchor="middle" font-family="Liberation Serif, serif" font-size="17.5" fill="#111">1.0</text>
<text x="614.0" y="495" text-anchor="middle" font-family="Liberation Serif, serif" font-size="17.5" fill="#111">1.5</text>
<text x="365" y="481.9" text-anchor="middle" font-family="Liberation Serif, serif" font-size="17.5" fill="#111">0</text>
<text x="365" y="446.3" text-anchor="middle" font-family="Liberation Serif, serif" font-size="17.5" fill="#111">5</text>
<text x="365" y="410.7" text-anchor="middle" font-family="Liberation Serif, serif" font-size="17.5" fill="#111">10</text>
<text x="365" y="375.1" text-anchor="middle" font-family="Liberation Serif, serif" font-size="17.5" fill="#111">15</text>
<text x="365" y="339.5" text-anchor="middle" font-family="Liberation Serif, serif" font-size="17.5" fill="#111">20</text>
<text x="365" y="303.9" text-anchor="middle" font-family="Liberation Serif, serif" font-size="17.5" fill="#111">25</text>
<text x="501.5" y="517.5" text-anchor="middle" font-family="Liberation Serif, serif" font-size="17.8" fill="#111">Strength <tspan font-style="italic">A</tspan> (V/nm)</text>
<text transform="translate(345,387) rotate(-90)" text-anchor="middle" font-family="Liberation Serif, serif" font-size="17.5" fill="#111"><tspan font-style="italic">F</tspan> (ns<tspan font-size="10.5" dy="-6.5">-1</tspan><tspan dy="6.5">·nm</tspan><tspan font-size="10.5" dy="-6.5">-2</tspan><tspan dy="6.5">)</tspan></text>
<text x="391" y="316" font-family="Liberation Serif, serif" font-size="17.3" fill="#111">Δ<tspan font-style="italic" dx="2.5">P</tspan><tspan dx="2.5">=</tspan><tspan dx="0.3" letter-spacing="0.9">500</tspan><tspan dx="1.6">MPa</tspan></text>
<line x1="392.3" y1="331.4" x2="416.1" y2="331.4" stroke="#e8801e" stroke-width="1.9"/>
<path d="M404.2,327.1 V335.7 M401.2,327.1 h6 M401.2,335.7 h6" stroke="#e8801e" stroke-width="1.6" fill="none"/>
<rect x="402.2" y="329.4" width="4.0" height="4.0" fill="#fff" stroke="#e8801e" stroke-width="1.8"/>
<text x="422" y="336.8" font-family="Liberation Serif, serif" font-size="17.5" font-style="italic" fill="#e8801e">F</text>
<text x="433.2" y="342.8" font-family="Liberation Serif, serif" font-size="10" fill="#e8801e">flow</text>
<line x1="392.3" y1="354.1" x2="416.1" y2="354.1" stroke="#3b3b3b" stroke-width="1.9"/>
<rect x="402.2" y="352.1" width="4.0" height="4.0" fill="#fff" stroke="#3b3b3b" stroke-width="1.8"/>
<text x="422" y="360.1" font-family="Liberation Serif, serif" font-size="17.5" font-style="italic" fill="#3b3b3b">F</text>
<text x="433.2" y="365.6" font-family="Liberation Serif, serif" font-size="10" fill="#3b3b3b">flux</text>
<text x="639.9" y="290" font-family="Liberation Sans, sans-serif" font-weight="700" font-size="22.5" fill="#000">F</text>
<path d="M705.4,475.5 v-5.5 M780.2,475.5 v-5.5 M855.1,475.5 v-5.5 M929.9,475.5 v-5.5 M697.5,459.0 h5.5 M697.5,378.6 h5.5 " stroke="#111" stroke-width="1.8" fill="none"/>
<path d="M705.4,459.0 L780.2,459.0 L855.1,459.0 L929.9,459.0" stroke="#e8801e" stroke-width="2" fill="none"/>
<rect x="703.4" y="457.0" width="4.0" height="4.0" fill="#fff" stroke="#e8801e" stroke-width="1.8"/>
<rect x="778.2" y="457.0" width="4.0" height="4.0" fill="#fff" stroke="#e8801e" stroke-width="1.8"/>
<rect x="853.1" y="457.0" width="4.0" height="4.0" fill="#fff" stroke="#e8801e" stroke-width="1.8"/>
<rect x="927.9" y="457.0" width="4.0" height="4.0" fill="#fff" stroke="#e8801e" stroke-width="1.8"/>
<rect x="697.5" y="298" width="240.20000000000005" height="177.5" fill="none" stroke="#111" stroke-width="2"/>
<text x="705.4" y="495" text-anchor="middle" font-family="Liberation Serif, serif" font-size="17.5" fill="#111">0</text>
<text x="780.2" y="495" text-anchor="middle" font-family="Liberation Serif, serif" font-size="17.5" fill="#111">0.5</text>
<text x="855.1" y="495" text-anchor="middle" font-family="Liberation Serif, serif" font-size="17.5" fill="#111">1.0</text>
<text x="929.9" y="495" text-anchor="middle" font-family="Liberation Serif, serif" font-size="17.5" fill="#111">1.5</text>
<text x="682" y="464.4" text-anchor="middle" font-family="Liberation Serif, serif" font-size="17.5" fill="#111">0</text>
<text x="682" y="384.0" text-anchor="middle" font-family="Liberation Serif, serif" font-size="17.5" fill="#111">0.5</text>
<text x="682" y="303.7" text-anchor="middle" font-family="Liberation Serif, serif" font-size="17.5" fill="#111">1.0</text>
<text x="817.5" y="517.5" text-anchor="middle" font-family="Liberation Serif, serif" font-size="17.8" fill="#111">Strength <tspan font-style="italic">A</tspan> (V/nm)</text>
<text transform="translate(662.4,384) rotate(-90)" text-anchor="middle" font-family="Liberation Serif, serif" font-size="17.5" fill="#111">Flow <tspan font-style="italic">F</tspan> (ns<tspan font-size="10.5" dy="-6.5">-1</tspan><tspan dy="6.5">·nm</tspan><tspan font-size="10.5" dy="-6.5">-2</tspan><tspan dy="6.5">)</tspan></text>
<line x1="712.9" y1="317.2" x2="733.5" y2="317.2" stroke="#e8801e" stroke-width="1.9"/>
<rect x="721.2" y="315.2" width="4.0" height="4.0" fill="#fff" stroke="#e8801e" stroke-width="1.8"/>
<text x="740.5" y="321.5" font-family="Liberation Serif, serif" font-size="17.5" font-style="italic" fill="#e8801e">F</text>
<text x="751.2" y="326.5" font-family="Liberation Serif, serif" font-size="10" fill="#e8801e">Ion</text>
</svg>
</body></html>
